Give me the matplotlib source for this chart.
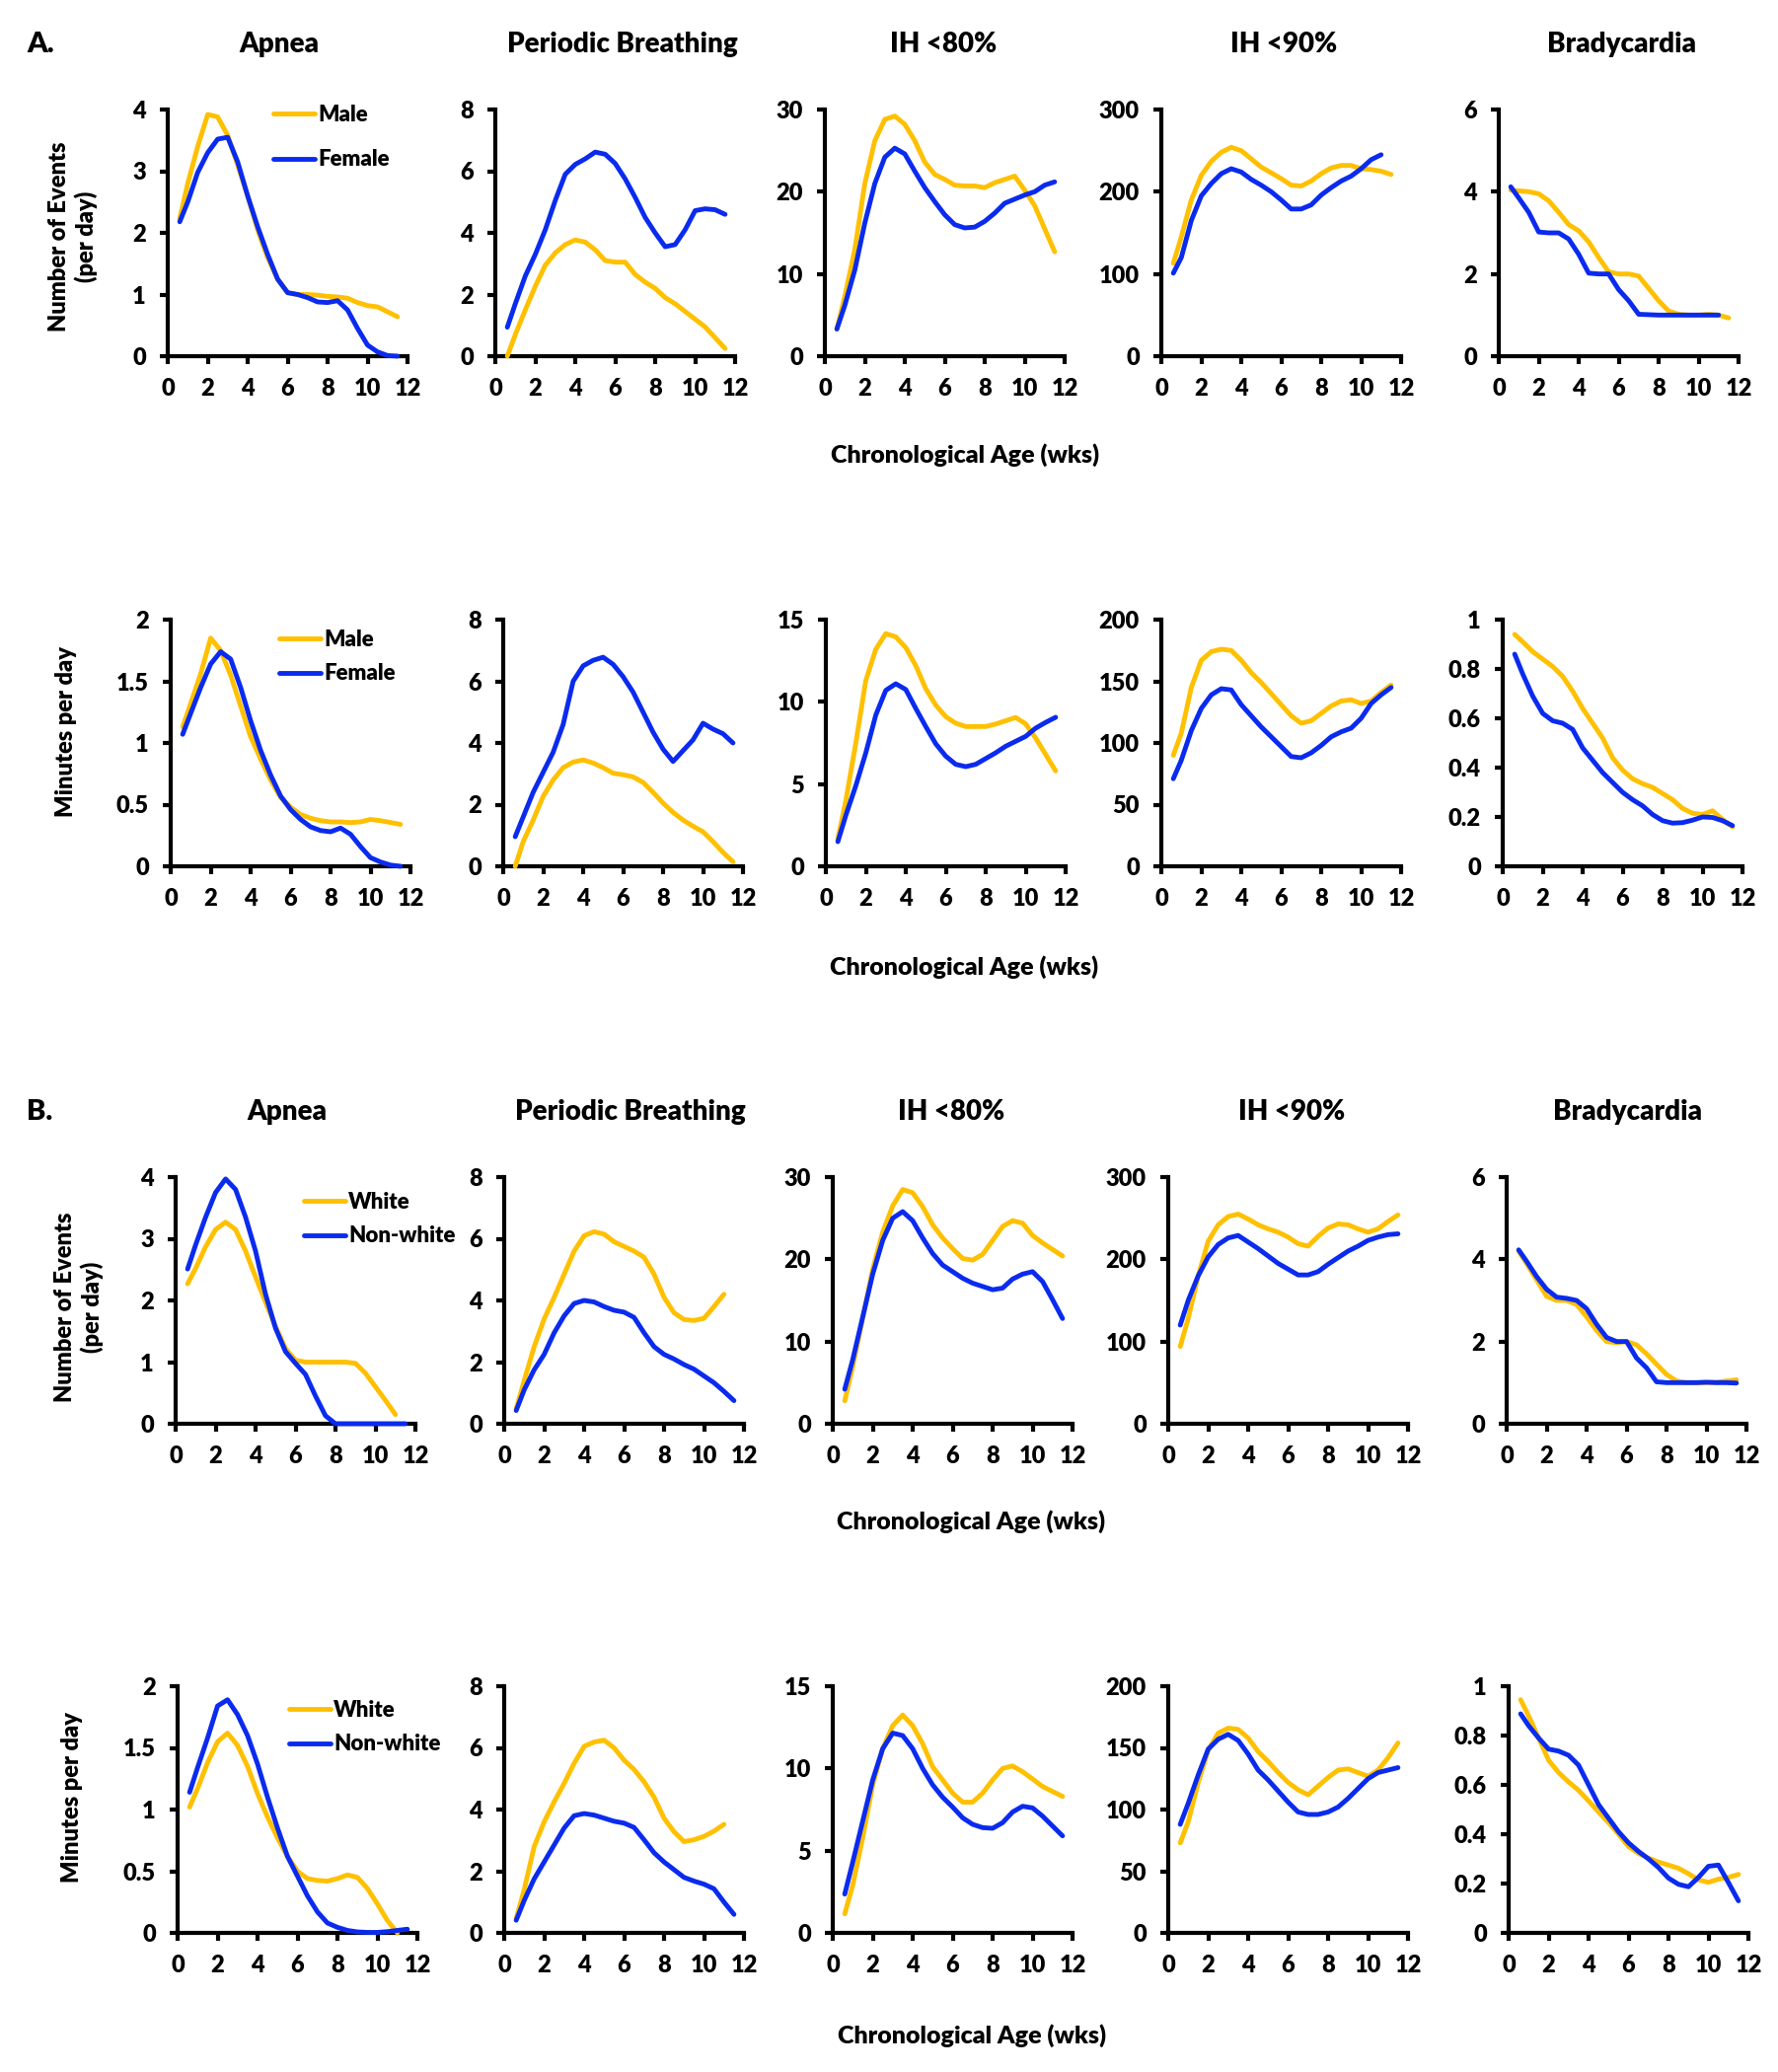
import numpy as np
import matplotlib
matplotlib.use("Agg")
import matplotlib.pyplot as plt
from matplotlib.ticker import FuncFormatter

nan = np.nan

# chronological age (weeks) at which each curve was read
weeks = [0.6, 1.0, 1.5, 2.0, 2.5, 3.0, 3.5, 4.0, 4.5, 5.0, 5.5, 6.0,
         6.5, 7.0, 7.5, 8.0, 8.5, 9.0, 9.5, 10.0, 10.5, 11.0, 11.5]

titles = ["Apnea", "Periodic Breathing", "IH <80%", "IH <90%", "Bradycardia"]
events_ymax = [4, 8, 30, 300, 6]
events_step = [1, 2, 10, 100, 2]
minutes_ymax = [2, 8, 15, 200, 1]
minutes_step = [0.5, 2, 5, 50, 0.2]

# ---- A. sex, number of events per day
apnea_ev_male = [2.23, 2.8, 3.4, 3.92, 3.88, 3.58, 3.1, 2.6, 2.05, 1.6, 1.25, 1.03, 1.0, 1.0, 0.99, 0.97, 0.96, 0.94, 0.87, 0.82, 0.8, 0.72, 0.64]
apnea_ev_female = [2.18, 2.5, 2.98, 3.3, 3.52, 3.55, 3.15, 2.6, 2.1, 1.65, 1.25, 1.03, 1.0, 0.95, 0.88, 0.87, 0.9, 0.75, 0.45, 0.18, 0.07, 0.01, 0.0]
pb_ev_male = [0.0, 0.7, 1.5, 2.27, 2.95, 3.35, 3.62, 3.77, 3.7, 3.45, 3.1, 3.05, 3.05, 2.65, 2.4, 2.2, 1.9, 1.7, 1.45, 1.2, 0.95, 0.6, 0.25]
pb_ev_female = [0.94, 1.7, 2.6, 3.3, 4.1, 5.05, 5.9, 6.22, 6.4, 6.62, 6.55, 6.25, 5.75, 5.15, 4.5, 4.0, 3.55, 3.62, 4.1, 4.72, 4.78, 4.75, 4.6]
ih80_ev_male = [3.3, 7.3, 13.0, 21.0, 26.2, 28.8, 29.2, 28.2, 26.2, 23.6, 22.1, 21.5, 20.8, 20.7, 20.7, 20.5, 21.1, 21.5, 21.9, 20.2, 18.3, 15.5, 12.7]
ih80_ev_female = [3.3, 6.2, 10.5, 16.2, 21.0, 24.2, 25.3, 24.6, 22.5, 20.5, 18.8, 17.2, 16.0, 15.6, 15.7, 16.4, 17.4, 18.6, 19.1, 19.6, 20.0, 20.8, 21.2]
ih90_ev_male = [113, 145, 190, 220, 237, 248, 254, 250, 240, 230, 223, 216, 208, 207, 213, 222, 229, 232, 232, 228, 227, 225, 221]
ih90_ev_female = [101, 120, 165, 195, 210, 222, 228, 224, 215, 208, 200, 190, 179, 179, 184, 196, 205, 213, 219, 228, 239, 245, nan]
brady_ev_male = [4.04, 4.02, 4.0, 3.95, 3.78, 3.5, 3.2, 3.05, 2.78, 2.4, 2.05, 2.0, 2.0, 1.95, 1.65, 1.35, 1.1, 1.02, 1.0, 1.0, 1.02, 1.0, 0.93]
brady_ev_female = [4.12, 3.85, 3.5, 3.02, 3.0, 3.0, 2.85, 2.48, 2.02, 2.0, 2.0, 1.62, 1.35, 1.02, 1.01, 1.0, 1.0, 1.0, 1.0, 1.0, 1.0, 1.0, nan]

# ---- A. sex, minutes per day
apnea_min_male = [1.13, 1.32, 1.56, 1.85, 1.75, 1.55, 1.3, 1.05, 0.87, 0.7, 0.56, 0.48, 0.42, 0.39, 0.37, 0.36, 0.36, 0.355, 0.36, 0.38, 0.37, 0.355, 0.34]
apnea_min_female = [1.07, 1.24, 1.45, 1.64, 1.74, 1.68, 1.45, 1.18, 0.94, 0.74, 0.57, 0.46, 0.38, 0.32, 0.29, 0.28, 0.31, 0.26, 0.16, 0.07, 0.035, 0.01, 0.0]
pb_min_male = [0.0, 0.8, 1.5, 2.27, 2.8, 3.2, 3.38, 3.45, 3.35, 3.2, 3.02, 2.97, 2.9, 2.72, 2.4, 2.05, 1.75, 1.5, 1.3, 1.12, 0.8, 0.45, 0.15]
pb_min_female = [0.96, 1.6, 2.4, 3.05, 3.7, 4.6, 6.0, 6.5, 6.68, 6.78, 6.55, 6.15, 5.65, 5.0, 4.35, 3.8, 3.4, 3.75, 4.1, 4.64, 4.45, 4.3, 4.0]
ih80_min_male = [1.66, 4.0, 7.5, 11.3, 13.2, 14.15, 13.95, 13.3, 12.2, 10.8, 9.8, 9.1, 8.7, 8.5, 8.5, 8.5, 8.65, 8.85, 9.05, 8.66, 7.8, 6.8, 5.8]
ih80_min_female = [1.5, 3.1, 4.9, 6.9, 9.2, 10.7, 11.1, 10.75, 9.6, 8.5, 7.45, 6.7, 6.2, 6.06, 6.2, 6.55, 6.9, 7.3, 7.6, 7.9, 8.4, 8.75, 9.06]
ih90_min_male = [90, 108, 145, 167, 174, 176, 175, 167, 157, 149, 140, 131, 122, 116, 118, 124, 130, 134, 135, 132, 134, 141, 147]
ih90_min_female = [71, 86, 110, 128, 139, 144, 143, 131, 122, 113, 105, 97, 89, 88, 92, 98, 105, 109, 112, 120, 132, 139, 145]
brady_min_male = [0.94, 0.91, 0.87, 0.84, 0.81, 0.77, 0.71, 0.64, 0.58, 0.52, 0.44, 0.39, 0.355, 0.335, 0.32, 0.295, 0.27, 0.235, 0.215, 0.21, 0.225, 0.19, 0.16]
brady_min_female = [0.86, 0.78, 0.69, 0.62, 0.59, 0.58, 0.555, 0.48, 0.43, 0.38, 0.34, 0.30, 0.27, 0.245, 0.21, 0.185, 0.175, 0.177, 0.187, 0.2, 0.198, 0.185, 0.165]

# ---- B. race, number of events per day
apnea_ev_white = [2.27, 2.52, 2.87, 3.15, 3.27, 3.15, 2.8, 2.38, 1.97, 1.58, 1.22, 1.03, 1.0, 1.0, 1.0, 1.0, 1.0, 0.98, 0.82, 0.6, 0.38, 0.15, nan]
apnea_ev_nonwhite = [2.51, 2.9, 3.35, 3.75, 3.97, 3.8, 3.35, 2.8, 2.1, 1.55, 1.17, 0.98, 0.8, 0.45, 0.13, 0.0, 0.0, 0.0, 0.0, 0.0, 0.0, 0.0, 0.0]
pb_ev_white = [0.48, 1.4, 2.5, 3.4, 4.1, 4.85, 5.6, 6.1, 6.23, 6.15, 5.9, 5.75, 5.6, 5.4, 4.85, 4.1, 3.6, 3.38, 3.35, 3.42, 3.8, 4.2, nan]
pb_ev_nonwhite = [0.43, 1.1, 1.75, 2.25, 2.95, 3.5, 3.9, 4.0, 3.95, 3.8, 3.68, 3.62, 3.45, 2.95, 2.5, 2.25, 2.1, 1.92, 1.77, 1.55, 1.33, 1.05, 0.75]
ih80_ev_white = [2.8, 7.0, 12.8, 18.8, 23.3, 26.5, 28.5, 28.1, 26.4, 24.2, 22.6, 21.3, 20.1, 19.9, 20.6, 22.3, 24.0, 24.7, 24.4, 22.9, 22.0, 21.2, 20.4]
ih80_ev_nonwhite = [4.2, 7.8, 13.0, 18.2, 22.3, 25.0, 25.8, 24.7, 22.6, 20.7, 19.3, 18.5, 17.7, 17.1, 16.7, 16.3, 16.5, 17.6, 18.2, 18.5, 17.3, 15.1, 12.8]
ih90_ev_white = [94, 128, 180, 222, 242, 252, 255, 249, 242, 237, 233, 227, 219, 216, 228, 238, 243, 242, 237, 233, 237, 246, 254]
ih90_ev_nonwhite = [120, 150, 180, 203, 218, 226, 229, 221, 213, 204, 195, 188, 181, 181, 185, 194, 202, 210, 216, 223, 227, 230, 231]
brady_ev_white = [4.2, 3.9, 3.5, 3.1, 3.0, 3.0, 2.9, 2.6, 2.27, 2.0, 1.97, 2.0, 1.92, 1.7, 1.45, 1.2, 1.04, 1.0, 1.0, 1.0, 1.01, 1.04, 1.07]
brady_ev_nonwhite = [4.23, 3.95, 3.58, 3.27, 3.08, 3.05, 3.0, 2.8, 2.42, 2.1, 2.0, 2.0, 1.6, 1.36, 1.02, 1.0, 1.0, 1.0, 1.0, 1.01, 1.0, 1.0, 0.99]

# ---- B. race, minutes per day
apnea_min_white = [1.02, 1.17, 1.38, 1.55, 1.62, 1.52, 1.35, 1.13, 0.94, 0.77, 0.62, 0.5, 0.44, 0.425, 0.42, 0.44, 0.47, 0.45, 0.36, 0.235, 0.1, 0.0, nan]
apnea_min_nonwhite = [1.14, 1.34, 1.58, 1.84, 1.89, 1.77, 1.6, 1.37, 1.1, 0.85, 0.62, 0.46, 0.3, 0.17, 0.08, 0.045, 0.02, 0.008, 0.004, 0.004, 0.01, 0.02, 0.03]
pb_min_white = [0.46, 1.4, 2.8, 3.6, 4.25, 4.85, 5.5, 6.05, 6.19, 6.25, 6.0, 5.6, 5.3, 4.9, 4.4, 3.72, 3.28, 2.96, 3.02, 3.13, 3.3, 3.52, nan]
pb_min_nonwhite = [0.41, 1.05, 1.75, 2.3, 2.85, 3.4, 3.8, 3.87, 3.82, 3.72, 3.62, 3.56, 3.42, 3.02, 2.6, 2.3, 2.05, 1.8, 1.68, 1.58, 1.43, 1.0, 0.6]
ih80_min_white = [1.16, 2.9, 5.8, 9.0, 11.2, 12.6, 13.25, 12.6, 11.5, 10.1, 9.3, 8.5, 7.95, 7.95, 8.5, 9.3, 10.0, 10.15, 9.8, 9.36, 8.9, 8.6, 8.3]
ih80_min_nonwhite = [2.36, 4.3, 6.8, 9.3, 11.2, 12.15, 12.0, 11.2, 10.0, 9.0, 8.25, 7.65, 7.0, 6.6, 6.4, 6.36, 6.7, 7.35, 7.7, 7.6, 7.1, 6.5, 5.9]
ih90_min_white = [73, 90, 122, 148, 162, 166, 165, 158, 147, 139, 130, 122, 116, 112, 119, 126, 132, 133, 130, 127, 132, 142, 154]
ih90_min_nonwhite = [88, 105, 128, 149, 157, 161, 156, 145, 132, 124, 115, 106, 98, 96, 96, 98, 102, 109, 117, 125, 130, 132, 134]
brady_min_white = [0.945, 0.88, 0.79, 0.70, 0.65, 0.612, 0.578, 0.535, 0.49, 0.447, 0.4, 0.35, 0.322, 0.303, 0.287, 0.275, 0.262, 0.24, 0.215, 0.205, 0.218, 0.225, 0.237]
brady_min_nonwhite = [0.888, 0.84, 0.79, 0.745, 0.737, 0.72, 0.68, 0.6, 0.52, 0.465, 0.41, 0.365, 0.33, 0.3, 0.265, 0.222, 0.197, 0.187, 0.225, 0.27, 0.275, 0.204, 0.13]

rows = [
    ([apnea_ev_male, pb_ev_male, ih80_ev_male, ih90_ev_male, brady_ev_male],
     [apnea_ev_female, pb_ev_female, ih80_ev_female, ih90_ev_female, brady_ev_female]),
    ([apnea_min_male, pb_min_male, ih80_min_male, ih90_min_male, brady_min_male],
     [apnea_min_female, pb_min_female, ih80_min_female, ih90_min_female, brady_min_female]),
    ([apnea_ev_white, pb_ev_white, ih80_ev_white, ih90_ev_white, brady_ev_white],
     [apnea_ev_nonwhite, pb_ev_nonwhite, ih80_ev_nonwhite, ih90_ev_nonwhite, brady_ev_nonwhite]),
    ([apnea_min_white, pb_min_white, ih80_min_white, ih90_min_white, brady_min_white],
     [apnea_min_nonwhite, pb_min_nonwhite, ih80_min_nonwhite, ih90_min_nonwhite, brady_min_nonwhite]),
]
row_labels = [("Male", "Female"), ("Male", "Female"), ("White", "Non-white"), ("White", "Non-white")]
row_ylabels = ["Number of Events\n(per day)", "Minutes per day", "Number of Events\n(per day)", "Minutes per day"]

YELLOW = "#FFC000"
BLUE = "#0A2BEE"
W, H = 1802, 2100
WT = "heavy"

plt.rcParams["font.family"] = "Lato"
plt.rcParams["font.weight"] = WT

fig = plt.figure(figsize=(W / 100, H / 100), dpi=100)

# layout in pixels (left edges per row, axes bottom per row)
lefts = [[170, 502, 836, 1177, 1519],
         [173, 510, 837, 1177, 1523],
         [178, 511, 844, 1184, 1527],
         [180, 511, 844, 1184, 1529]]
bottoms = [361, 878, 1443, 1959]
ax_w, ax_h = 243, 250

fmt = FuncFormatter(lambda v, _: f"{v:g}")

for r in range(4):
    yel, blu = rows[r]
    for c in range(5):
        ax = fig.add_axes([lefts[r][c] / W, 1 - bottoms[r] / H, ax_w / W, ax_h / H])
        if r % 2 == 0:
            ymax, step = events_ymax[c], events_step[c]
        else:
            ymax, step = minutes_ymax[c], minutes_step[c]
        l1, = ax.plot(weeks, yel[c], color=YELLOW, lw=3.5, solid_capstyle="round",
                      solid_joinstyle="round", clip_on=False, zorder=3, label=row_labels[r][0])
        l2, = ax.plot(weeks, blu[c], color=BLUE, lw=3.5, solid_capstyle="round",
                      solid_joinstyle="round", clip_on=False, zorder=4, label=row_labels[r][1])
        ax.set_xlim(0, 12)
        ax.set_ylim(0, ymax)
        ax.set_xticks(range(0, 13, 2))
        ax.set_yticks(np.arange(0, ymax + step / 2, step))
        ax.yaxis.set_major_formatter(fmt)
        for s in ["top", "right"]:
            ax.spines[s].set_visible(False)
        for s in ["left", "bottom"]:
            ax.spines[s].set_linewidth(3)
        ax.tick_params(direction="out", length=6, width=3, pad=10, labelsize=17)
        for lab in ax.get_xticklabels() + ax.get_yticklabels():
            lab.set_fontweight(WT)
        ax.patch.set_visible(False)

        if c == 0:
            legend_pos = [(277, 106), (283, 638), (308, 1208), (293, 1723)]
            spacing = [1.1, 0.6, 0.6, 0.6]
            lx, ly = legend_pos[r]
            ax.legend(handles=[l1, l2], loc="upper left", bbox_to_anchor=(lx / W, 1 - ly / H),
                      bbox_transform=fig.transFigure, frameon=False, borderpad=0,
                      borderaxespad=0, handlelength=1.9, handletextpad=0.12,
                      labelspacing=spacing[r], prop={"size": 16, "weight": WT})

# column titles
title_x = [[283, 631, 956, 1301, 1643], [291, 639, 964, 1309, 1650]]
for i, ty in enumerate([45, 1127]):
    for c in range(5):
        fig.text(title_x[i][c] / W, 1 - ty / H, titles[c], ha="center", va="center",
                 fontsize=20, fontweight=WT)

fig.text(27 / W, 1 - 45 / H, "A.", ha="left", va="center", fontsize=21, fontweight=WT)
fig.text(27 / W, 1 - 1127 / H, "B.", ha="left", va="center", fontsize=21, fontweight=WT)

# y labels
ylab_pos = [(74, 240), (67, 742), (80, 1325), (73, 1821)]
for r in range(4):
    x, y = ylab_pos[r]
    fig.text(x / W, 1 - y / H, row_ylabels[r], rotation=90, ha="center", va="center",
             fontsize=17, fontweight=WT, linespacing=1.2, multialignment="center")

# x labels
for x, y in [(978, 461), (977, 980), (984, 1542), (985, 2063)]:
    fig.text(x / W, 1 - y / H, "Chronological Age (wks)", ha="center", va="center",
             fontsize=18, fontweight=WT)

fig.savefig("out.png", dpi=100, facecolor="white")
